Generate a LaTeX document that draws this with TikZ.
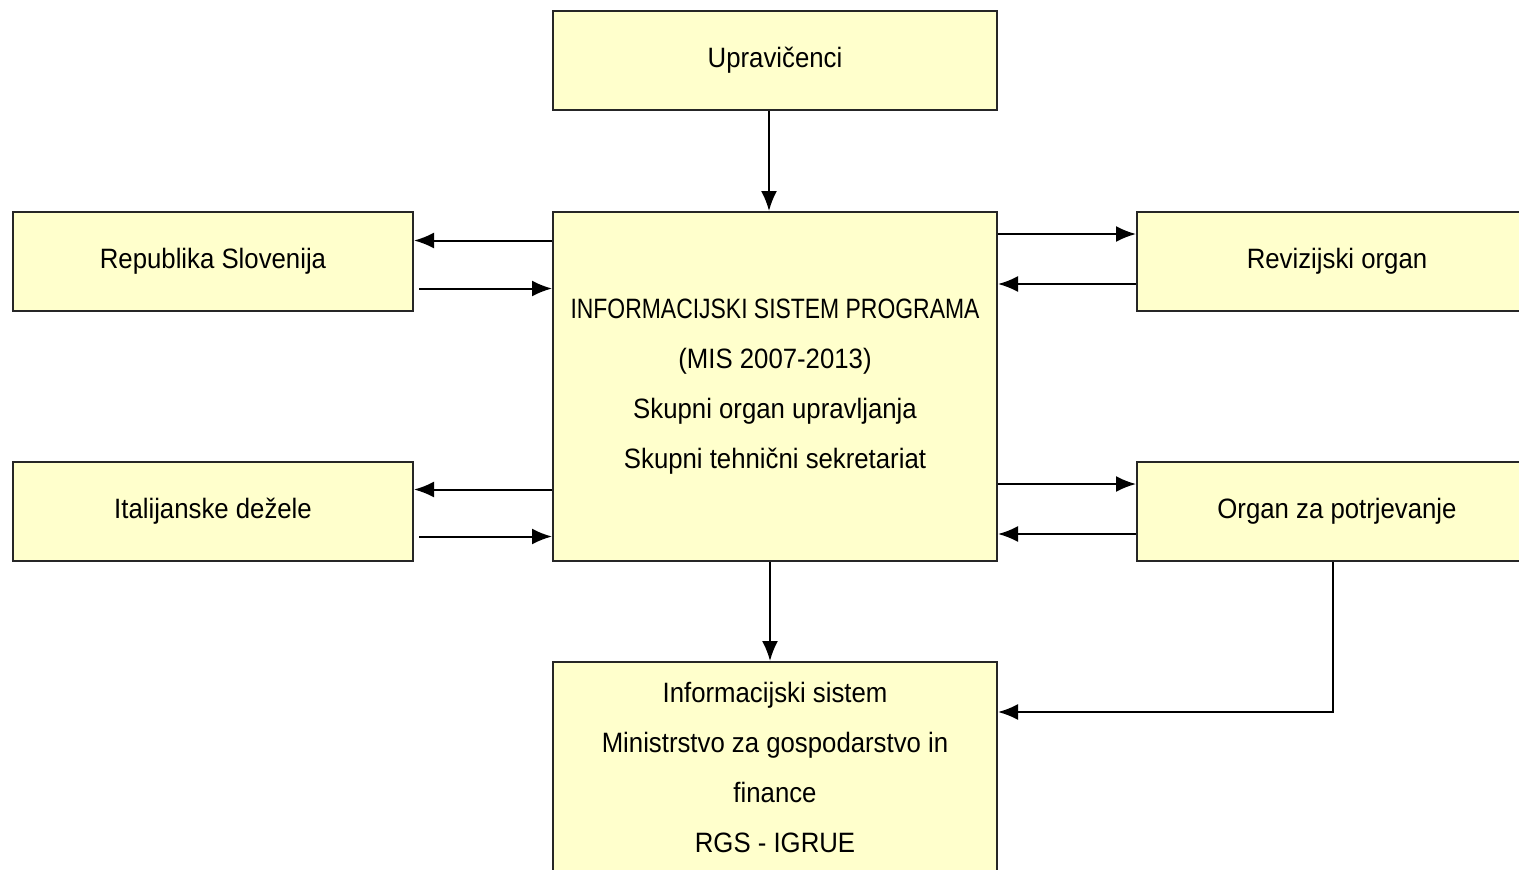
\documentclass[tikz,border=0pt]{standalone}
\usepackage{fontspec}
\usepackage{graphicx}
\setmainfont{Liberation Sans}[FakeStretch=0.92]
\usetikzlibrary{arrows.meta}
\definecolor{boxfill}{RGB}{255,255,204}

\begin{document}
\begin{tikzpicture}[x=0.5pt,y=-0.5pt,
  box/.style={draw=black!85,line width=1pt,fill=boxfill,align=center,
    inner sep=0pt,font=\fontsize{14}{25}\selectfont},
  wide/.style={box,minimum width=222pt,minimum height=49.5pt},
  side/.style={box,minimum width=200pt,minimum height=49.5pt},
  arr/.style={line width=1pt,-{Latex[length=10pt,width=8pt]}}]
% page frame
\clip (0,0) rectangle (1519,869);
\fill[white] (0,0) rectangle (1519,869);

% the boxes
\node[wide] (upr) at (775,60.5) {Upravičenci};
\node[box,minimum width=222pt,minimum height=174.5pt] (prog) at (775,386.5)
  {\scalebox{0.89}[1]{INFORMACIJSKI SISTEM PROGRAMA}\\(MIS 2007-2013)\\Skupni organ upravljanja\\Skupni tehnični sekretariat};
\node[side] (rep) at (213,261.5) {Republika Slovenija};
\node[side] (ital) at (213,511.5) {Italijanske dežele};
\node[side] (rev) at (1337,261.5) {Revizijski organ};
\node[side] (org) at (1337,511.5) {Organ za potrjevanje};
\node[box,minimum width=222pt,minimum height=105pt] (isp) at (775,767)
  {Informacijski sistem\\Ministrstvo za gospodarstvo in\\finance\\RGS - IGRUE};

% top and bottom
\draw[arr] ([xshift=-3pt]upr.south) -- ([xshift=-3pt]prog.north);
\draw[arr] ([xshift=-2.5pt]prog.south) -- ([xshift=-2.5pt]isp.north);

% left side
\draw[arr] (prog.west |- rep.east) ++(0,-21) coordinate (p1) -- (p1 -| rep.east);
\draw[arr,shorten <=2.5pt] ([yshift=-13.5pt]rep.east) -- ([yshift=-13.5pt]rep.east -| prog.west);
\draw[arr] (prog.west |- ital.east) ++(0,-22) coordinate (p2) -- (p2 -| ital.east);
\draw[arr,shorten <=2.5pt] ([yshift=-12.5pt]ital.east) -- ([yshift=-12.5pt]ital.east -| prog.west);

% right side
\draw[arr] ([yshift=13.75pt]rev.west -| prog.east) -- ([yshift=13.75pt]rev.west);
\draw[arr] ([yshift=-11.25pt]rev.west) -- ([yshift=-11.25pt]rev.west -| prog.east);
\draw[arr] ([yshift=13.75pt]org.west -| prog.east) -- ([yshift=13.75pt]org.west);
\draw[arr] ([yshift=-11.25pt]org.west) -- ([yshift=-11.25pt]org.west -| prog.east);

% certifying authority down to the bottom box
\draw[arr] ([xshift=-2pt]org.south) |- ([yshift=27.5pt]isp.east);
\end{tikzpicture}
\end{document}
